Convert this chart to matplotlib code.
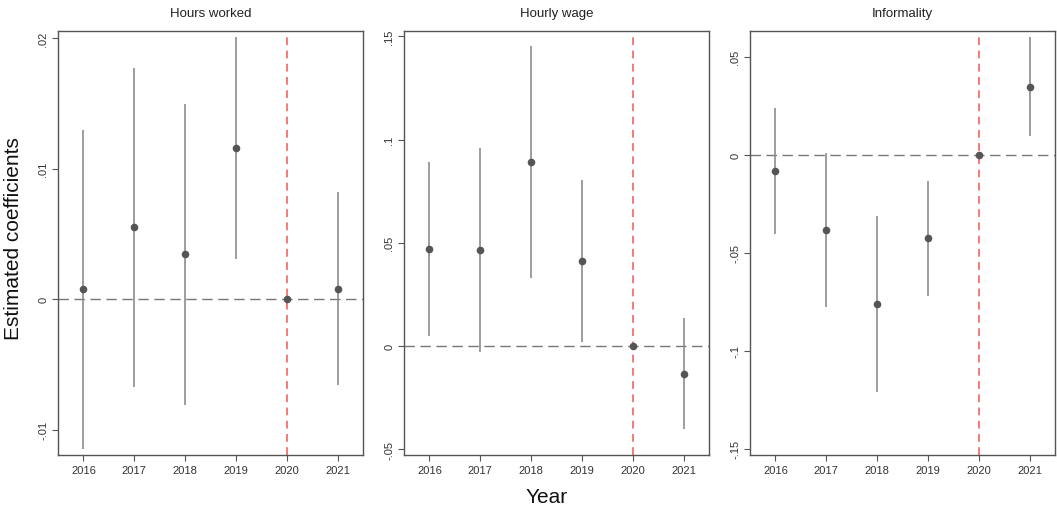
import matplotlib
matplotlib.use("Agg")
import matplotlib.pyplot as plt

plt.rcParams["font.family"] = ["Liberation Sans", "DejaVu Sans"]

years = [2016, 2017, 2018, 2019, 2020, 2021]

titles = ["Hours worked", "Hourly wage", "Informality"]

hours_coef = [0.0008, 0.0055, 0.0035, 0.0116, 0.0, 0.0008]
hours_lo = [-0.0115, -0.0067, -0.0081, 0.0031, 0.0, -0.0066]
hours_hi = [0.0130, 0.0177, 0.0150, 0.0201, 0.0, 0.0082]

wage_coef = [0.047, 0.0465, 0.089, 0.0412, 0.0, -0.0136]
wage_lo = [0.0048, -0.0029, 0.0328, 0.0021, 0.0, -0.0404]
wage_hi = [0.089, 0.0961, 0.1452, 0.0806, 0.0, 0.0134]

inf_coef = [-0.0082, -0.0384, -0.0762, -0.0427, 0.0, 0.0347]
inf_lo = [-0.0403, -0.0779, -0.1212, -0.0719, 0.0, 0.0095]
inf_hi = [0.024, 0.0007, -0.0314, -0.0133, 0.0, 0.0600]

ytick_vals = [
    [-0.01, 0.0, 0.01, 0.02],
    [-0.05, 0.0, 0.05, 0.1, 0.15],
    [-0.15, -0.1, -0.05, 0.0, 0.05],
]
ytick_text = [
    ["-.01", "0", ".01", ".02"],
    ["-.05", "0", ".05", ".1", ".15"],
    ["-.15", "-.1", "-.05", "0", ".05"],
]
ylims = [(-0.01194, 0.02056), (-0.0529, 0.1526), (-0.1532, 0.0631)]

coefs = [hours_coef, wage_coef, inf_coef]
los = [hours_lo, wage_lo, inf_lo]
his = [hours_hi, wage_hi, inf_hi]

fig = plt.figure(figsize=(10.57, 5.10), dpi=100)

lefts = [58 / 1057, 404 / 1057, 750 / 1057]
width = 305 / 1057
bottom = 54 / 510
height = 424 / 510

for i in range(3):
    ax = fig.add_axes([lefts[i], bottom, width, height])

    # reference lines
    ax.axhline(0, color="#777777", linestyle=(0, (7.5, 4)), linewidth=1, zorder=1)
    ax.axvline(2020, color="#f47a7a", linestyle=(0, (4, 2.8)), linewidth=1.4, zorder=1)

    ax.vlines(years, los[i], his[i], color="#8c8c8c", linewidth=1.2, zorder=2)
    ax.scatter(years, coefs[i], s=20, color="#555555", zorder=3)

    ax.set_xlim(2015.5, 2021.5)
    ax.set_ylim(ylims[i])
    ax.set_xticks(years)
    ax.set_xticklabels([str(y) for y in years], fontsize=8, color="#333333")
    ax.set_yticks(ytick_vals[i])
    ax.set_yticklabels(ytick_text[i], fontsize=8, color="#333333",
                       rotation=90, va="center")

    ax.tick_params(axis="both", length=4, width=0.8, color="#555555", pad=3)

    for sp in ax.spines.values():
        sp.set_color("#555555")
        sp.set_linewidth(1)

    ax.set_title(titles[i], fontsize=9.5, color="#222222", pad=11)

fig.text(0.0125, 0.533, "Estimated coefficients", rotation=90,
         fontsize=15, ha="center", va="center", color="#111111")
fig.text(0.5175, 0.025, "Year", fontsize=15, ha="center", va="center",
         color="#111111")

fig.savefig("out.png", dpi=100, facecolor="white")
plt.close(fig)
